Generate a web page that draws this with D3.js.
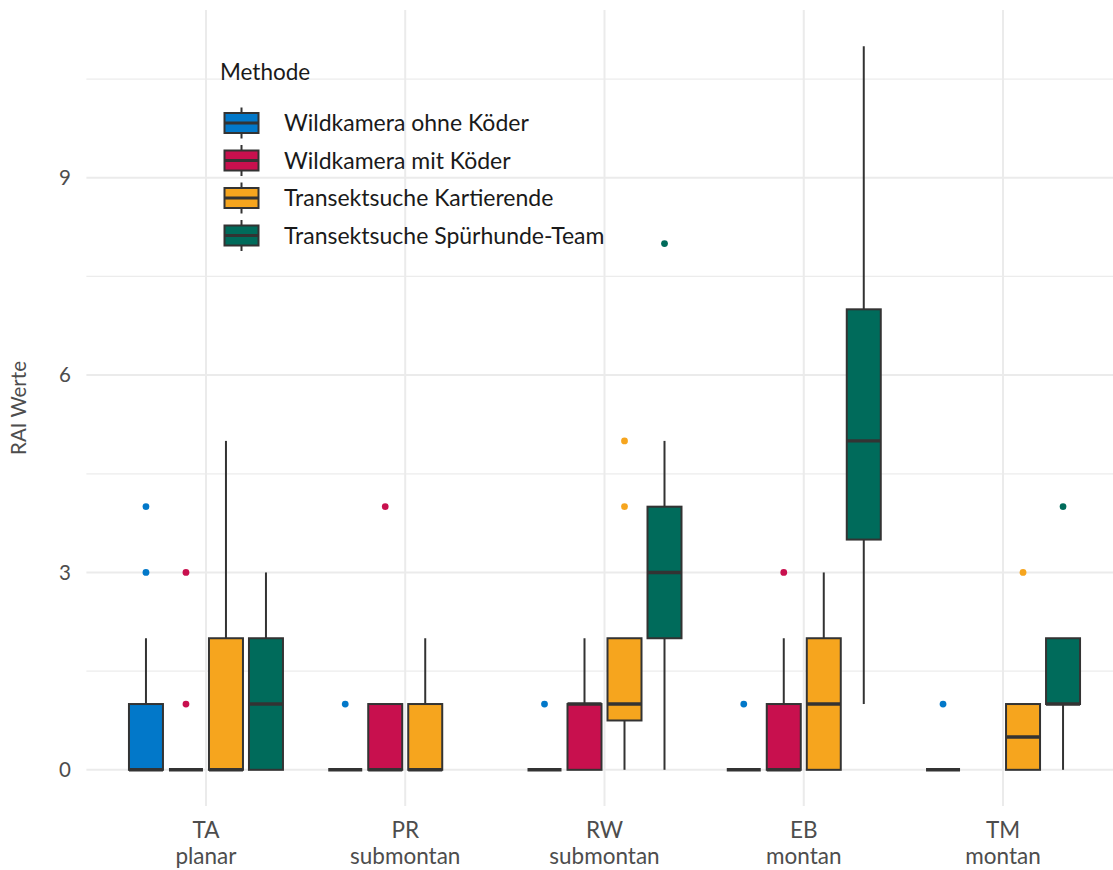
<!DOCTYPE html>
<html>
<head>
<meta charset="utf-8">
<script src="https://cdn.jsdelivr.net/npm/d3@7"></script>
<style>
  html, body { margin: 0; padding: 0; background: #ffffff; }
  svg { display: block; }
  text { font-family: Lato, "Open Sans", "DejaVu Sans", sans-serif; }
</style>
</head>
<body>
<div id="chart"></div>
<script>
// Sites (survey area code + altitude zone)
const siteCodes = ["TA", "PR", "RW", "EB", "TM"];
const siteZones = ["planar", "submontan", "submontan", "montan", "montan"];

// Survey methods and their fill colours
const methods = [
  "Wildkamera ohne Köder",
  "Wildkamera mit Köder",
  "Transektsuche Kartierende",
  "Transektsuche Spürhunde-Team"
];
const methodColors = ["#0278c9", "#c8104e", "#f6a51e", "#006b5b"];

// Box statistics per site: [lower whisker, Q1, median, Q3, upper whisker]; null = not surveyed
const statsOhneKoeder = [[0, 0, 0, 1, 2], [0, 0, 0, 0, 0], [0, 0, 0, 0, 0], [0, 0, 0, 0, 0], [0, 0, 0, 0, 0]];
const statsMitKoeder = [[0, 0, 0, 0, 0], [0, 0, 0, 1, 1], [0, 0, 1, 1, 2], [0, 0, 0, 1, 2], null];
const statsKartierende = [[0, 0, 0, 2, 5], [0, 0, 0, 1, 2], [0, 0.75, 1, 2, 2], [0, 0, 1, 2, 3], [0, 0, 0.5, 1, 1]];
const statsSpuerhunde = [[0, 0, 1, 2, 3], null, [0, 2, 3, 4, 5], [1, 3.5, 5, 7, 11], [0, 1, 1, 2, 2]];

// Outlying RAI values per site
const outOhneKoeder = [[3, 4], [1], [1], [1], [1]];
const outMitKoeder = [[1, 3], [4], [], [3], []];
const outKartierende = [[], [], [4, 5], [], [3]];
const outSpuerhunde = [[], [], [8], [], [4]];

// Y axis ticks
const yMajorTicks = [0, 3, 6, 9];
const yMinorTicks = [1.5, 4.5, 7.5, 10.5];

const allStats = [statsOhneKoeder, statsMitKoeder, statsKartierende, statsSpuerhunde];
const allOutliers = [outOhneKoeder, outMitKoeder, outKartierende, outSpuerhunde];

const W = 1113, H = 870;
const panel = { left: 86.4, right: 1122.6, top: 10, bottom: 806 };

const svg = d3.select("#chart").append("svg")
  .attr("width", W).attr("height", H);

const x = d3.scalePoint()
  .domain(siteCodes)
  .range([panel.left, panel.right])
  .padding(0.6);

const xInner = d3.scaleBand()
  .domain(d3.range(methods.length))
  .range([-80, 80])
  .paddingInner(0.15)
  .paddingOuter(0.075);

const y = d3.scaleLinear()
  .domain([-0.55, 11.55])
  .range([panel.bottom, panel.top]);

// Grid
const grid = svg.append("g");
grid.selectAll(".minor").data(yMinorTicks).join("line")
  .attr("x1", panel.left).attr("x2", panel.right)
  .attr("y1", d => y(d)).attr("y2", d => y(d))
  .attr("stroke", "#ececec").attr("stroke-width", 1.3);
grid.selectAll(".major").data(yMajorTicks).join("line")
  .attr("x1", panel.left).attr("x2", panel.right)
  .attr("y1", d => y(d)).attr("y2", d => y(d))
  .attr("stroke", "#ebebeb").attr("stroke-width", 2);
grid.selectAll(".vert").data(siteCodes).join("line")
  .attr("x1", d => x(d)).attr("x2", d => x(d))
  .attr("y1", panel.top).attr("y2", panel.bottom)
  .attr("stroke", "#ebebeb").attr("stroke-width", 2);

// Y axis labels
svg.append("g").selectAll("text").data(yMajorTicks).join("text")
  .attr("x", 71).attr("y", d => y(d))
  .attr("dy", "0.36em")
  .attr("text-anchor", "end")
  .attr("font-size", 20.5)
  .attr("fill", "#4d4d4d")
  .text(d => d);

svg.append("text")
  .attr("transform", `translate(26,${(panel.top + panel.bottom) / 2}) rotate(-90)`)
  .attr("text-anchor", "middle")
  .attr("font-size", 20.5)
  .attr("fill", "#4d4d4d")
  .text("RAI Werte");

// X axis labels (two lines)
const xl = svg.append("g").selectAll("text").data(siteCodes).join("text")
  .attr("text-anchor", "middle")
  .attr("font-size", 22.5)
  .attr("fill", "#4d4d4d");
xl.append("tspan").attr("x", d => x(d)).attr("y", 838).text(d => d);
xl.append("tspan").attr("x", d => x(d)).attr("y", 864).text((d, i) => siteZones[i]);

// Boxplots
const outline = "#333333";
const lw0 = 2;
const boxes = svg.append("g");
allStats.forEach((series, m) => {
  series.forEach((s, i) => {
    if (!s) return;
    const cx = x(siteCodes[i]) + xInner(m) + xInner.bandwidth() / 2;
    const bw = xInner.bandwidth();
    const [lw, q1, med, q3, uw] = s;
    const g = boxes.append("g");
    // whiskers
    g.append("line").attr("x1", cx).attr("x2", cx).attr("y1", y(q3)).attr("y2", y(uw))
      .attr("stroke", outline).attr("stroke-width", lw0);
    g.append("line").attr("x1", cx).attr("x2", cx).attr("y1", y(q1)).attr("y2", y(lw))
      .attr("stroke", outline).attr("stroke-width", lw0);
    // box
    g.append("rect")
      .attr("x", cx - bw / 2).attr("width", bw)
      .attr("y", y(q3)).attr("height", y(q1) - y(q3))
      .attr("fill", methodColors[m])
      .attr("stroke", outline).attr("stroke-width", lw0);
    // median
    g.append("line").attr("x1", cx - bw / 2).attr("x2", cx + bw / 2)
      .attr("y1", y(med)).attr("y2", y(med))
      .attr("stroke", outline).attr("stroke-width", 3.4);
    // outliers
    g.selectAll("circle").data(allOutliers[m][i]).join("circle")
      .attr("cx", cx).attr("cy", d => y(d)).attr("r", 3.4)
      .attr("fill", methodColors[m]);
  });
});

// Legend
const legend = svg.append("g");
legend.append("text")
  .attr("x", 220).attr("y", 80)
  .attr("font-size", 22.5)
  .attr("fill", "#1a1a1a")
  .text("Methode");
const rowY = d3.scaleLinear().domain([0, 3]).range([123, 235.5]);
methods.forEach((name, m) => {
  const cy = rowY(m);
  const kx = 224.5, kw = 34, kh = 20;
  const g = legend.append("g");
  g.append("line").attr("x1", kx + kw / 2).attr("x2", kx + kw / 2)
    .attr("y1", cy - 15.5).attr("y2", cy + 15.5)
    .attr("stroke", outline).attr("stroke-width", lw0);
  g.append("rect").attr("x", kx).attr("y", cy - kh / 2)
    .attr("width", kw).attr("height", kh)
    .attr("fill", methodColors[m])
    .attr("stroke", outline).attr("stroke-width", lw0);
  g.append("line").attr("x1", kx).attr("x2", kx + kw)
    .attr("y1", cy).attr("y2", cy)
    .attr("stroke", outline).attr("stroke-width", 3);
  g.append("text").attr("x", 284).attr("y", cy)
    .attr("dy", "0.36em")
    .attr("font-size", 23)
    .attr("fill", "#1a1a1a")
    .text(name);
});
</script>
</body>
</html>
